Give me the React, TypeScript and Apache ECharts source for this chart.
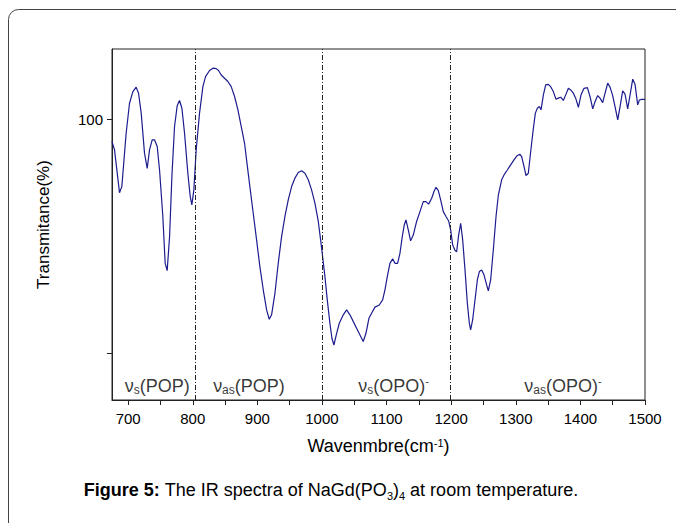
import React, { useEffect, useRef } from "react";
import * as echarts from "echarts";

const wavenumbers = [
  675, 678.9, 686.6, 690.2, 696.9, 702.1, 707.3, 712.4, 716.1, 720.2, 725.3, 729.5, 733.1, 737.2, 740.8,
  745.0, 748.6, 753.7, 757.3, 760.4, 764.1, 767.7, 771.8, 775.9, 779.5, 783.2, 787.3, 792.4, 796.1, 798.6,
  801.7, 805.3, 810.5, 815.7, 819.8, 826.0, 831.2, 836.3, 839.9, 844.1, 849.2, 854.4, 859.5, 864.7, 869.9,
  875.0, 880.2,
  883.3, 888.4, 893.6, 898.8, 903.9, 909.1, 914.3, 918.4, 922.0, 927.2, 932.3, 937.5, 942.6, 947.8, 953.0,
  958.1, 963.3, 968.5, 973.6, 978.8, 983.9, 989.1, 994.3, 997.9, 1001.0, 1004.6, 1008.2, 1012.3, 1015.4, 1018.5,
  1022.7, 1026.8, 1033.0, 1038.1, 1043.3, 1048.5, 1053.6, 1058.8, 1063.9, 1068.1, 1072.7, 1076.8, 1082.0, 1088.7,
  1093.9, 1097.5, 1101.1, 1105.2, 1109.4, 1113.0, 1117.1, 1120.7, 1124.3, 1127.4, 1130.0, 1133.6, 1137.2, 1141.4, 1146.5,
  1151.7, 1156.8, 1161.0, 1165.1, 1169.8, 1173.4, 1176.5, 1180.1, 1183.7, 1187.8, 1192.0, 1196.1, 1199.2, 1202.3, 1205.9,
  1208.5, 1211.6, 1214.7, 1217.8, 1221.4, 1225.0, 1228.1, 1230.1, 1233.2, 1236.9, 1240.5, 1243.6, 1247.2, 1250.8, 1254.9,
  1257.5, 1261.1, 1265.2, 1269.4, 1273.0,
  1278.1, 1281.8, 1286.9, 1292.1, 1297.2, 1302.4, 1306.5, 1309.1, 1312.7, 1315.8, 1319.4, 1323.1, 1327.2, 1330.3, 1333.4,
  1336.5, 1339.1, 1342.7, 1346.3, 1350.4, 1354.0, 1358.1, 1362.3, 1365.9, 1369.5, 1373.6, 1377.3, 1381.4, 1385.0, 1389.1,
  1392.7, 1396.9, 1401.0, 1405.6, 1410.8, 1414.9, 1419.1, 1422.7, 1426.8, 1430.4, 1434.5, 1438.2, 1442.3, 1445.9, 1450.0,
  1453.6, 1457.8, 1461.4, 1465.5, 1469.1, 1473.2, 1476.9, 1481.0, 1484.6, 1488.7, 1491.3, 1494.9, 1500.0,
];

const transmittance = [
  99.04, 98.69, 96.86, 97.12, 99.40, 100.68, 101.18, 101.37, 101.11, 100.26, 98.55, 97.90, 98.69, 99.12, 99.12,
  98.83, 97.83, 95.84, 93.84, 93.53, 94.98, 97.55, 99.69, 100.57, 100.80, 100.47, 99.40, 97.69, 96.69, 96.34,
  96.98, 98.69, 100.26, 101.39, 101.82, 102.08, 102.18, 102.16, 102.08, 101.89, 101.75, 101.61, 101.39, 100.97, 100.40,
  99.69, 98.97,
  98.26, 97.12, 95.98, 94.84, 93.70, 92.71, 91.85, 91.45, 91.64, 92.56, 93.84, 94.98, 95.84, 96.55, 97.12,
  97.48, 97.72, 97.80, 97.69, 97.41, 96.98, 96.41, 95.63, 94.84, 94.13, 93.27, 92.28, 91.28, 90.64, 90.35,
  90.85, 91.28, 91.64, 91.85, 91.64, 91.35, 91.07, 90.78, 90.50, 90.85, 91.49, 91.71, 91.97, 92.06,
  92.28, 92.71, 93.27, 93.84, 94.03, 93.84, 93.84, 94.27, 94.98, 95.48, 95.70, 95.27, 94.80, 95.06, 95.63,
  96.05, 96.48, 96.48, 96.37, 96.62, 96.91, 97.09, 96.95, 96.55, 96.05, 95.84, 95.65, 95.27, 94.63, 94.39,
  94.34, 95.06, 95.55, 94.84, 93.56, 92.14, 91.28, 91.00, 91.42, 92.28, 93.13, 93.49, 93.56, 93.35, 92.92,
  92.66, 93.13, 94.41, 95.84, 96.76,
  97.41, 97.62, 97.83, 98.05, 98.26, 98.45, 98.50, 98.40, 97.98, 97.59, 97.69, 98.62, 99.61, 100.26, 100.47,
  100.54, 100.40, 101.04, 101.47, 101.49, 101.39, 101.18, 100.85, 100.90, 100.94, 100.80, 101.04, 101.32, 101.25, 101.11,
  100.90, 100.51, 101.04, 101.32, 101.35, 100.97, 100.44, 100.75, 101.01, 100.90, 100.71, 101.11, 101.54, 101.37, 101.01,
  100.54, 99.97, 100.54, 101.21, 101.07, 100.44, 101.04, 101.71, 101.49, 100.61, 100.82, 100.85, 100.85,
];

const regionBoundaries = [804, 1000, 1198];
const regionLabelX = [745, 887, 1111, 1373];
const regionLabelY = 88.6;
const regionLabels = [
  "ν{sub|s}(POP)",
  "ν{sub|as}(POP)",
  "ν{sub|s}(OPO){sup|-}",
  "ν{sub|as}(OPO){sup|-}",
];
const xLabelValues = [700, 800, 900, 1000, 1100, 1200, 1300, 1400, 1500];
const xTickValues = [700, 750, 800, 850, 900, 950, 1000, 1050, 1100, 1150, 1200, 1250, 1300, 1350, 1400, 1450, 1500];
const yTickValues = [90, 100];
const yLabelValues = [100];

const FONT = "'Liberation Sans', Arial, Helvetica, sans-serif";
const INK = "#000";

export default function App() {
  const ref = useRef<HTMLDivElement>(null);

  useEffect(() => {
    const chart = echarts.init(ref.current!, null, { renderer: "svg" });
    const n = Math.min(wavenumbers.length, transmittance.length);
    const lineData: number[][] = [];
    for (let i = 0; i < n; i++) lineData.push([wavenumbers[i], transmittance[i]]);
    const labelData = regionLabelX.map((x) => [x, regionLabelY]);

    chart.setOption({
      animation: false,
      backgroundColor: "#ffffff",
      textStyle: { fontFamily: FONT },
      grid: {
        left: 112,
        top: 49,
        right: 31,
        bottom: 123,
        show: true,
        borderColor: "#222",
        borderWidth: 1,
        outerBoundsMode: "none",
      },
      xAxis: {
        type: "value",
        min: 675,
        max: 1500,
        name: "Wavenmbre(cm{sup|-1})",
        nameLocation: "middle",
        nameGap: 37,
        nameTextStyle: {
          fontSize: 18,
          color: INK,
          fontFamily: FONT,
          rich: {
            sup: { fontSize: 11, verticalAlign: "top", lineHeight: 8, color: INK, fontFamily: FONT },
          },
        },
        axisLine: { show: true, lineStyle: { color: "#222", width: 1 } },
        axisTick: { show: true, inside: false, length: 5, customValues: xTickValues, lineStyle: { color: "#222" } },
        axisLabel: {
          customValues: xLabelValues,
          formatter: (v: number) => String(v),
          fontSize: 15,
          color: INK,
          margin: 11,
          fontFamily: FONT,
        },
        splitLine: { show: false },
      },
      yAxis: {
        type: "value",
        min: 88,
        max: 103,
        name: "Transmitance(%)",
        nameLocation: "middle",
        nameGap: 60,
        nameTextStyle: { fontSize: 17, color: INK, fontFamily: FONT },
        axisLine: { show: true, lineStyle: { color: "#222", width: 1 } },
        axisTick: { show: true, inside: false, length: 5, customValues: yTickValues, lineStyle: { color: "#222" } },
        axisLabel: {
          customValues: yLabelValues,
          formatter: (v: number) => String(v),
          fontSize: 15,
          color: INK,
          margin: 9,
          fontFamily: FONT,
        },
        splitLine: { show: false },
      },
      series: [
        {
          type: "line",
          data: lineData,
          showSymbol: false,
          smooth: false,
          lineStyle: { color: "#1c1c8f", width: 1.2 },
          markLine: {
            silent: true,
            symbol: ["none", "none"],
            label: { show: false },
            lineStyle: { color: "#222", width: 1, type: [5, 2, 1, 2] },
            data: regionBoundaries.map((x) => ({ xAxis: x })),
          },
          z: 3,
        },
        {
          type: "scatter",
          data: labelData,
          symbolSize: 0,
          silent: true,
          label: {
            show: true,
            position: "inside",
            formatter: (p: any) => regionLabels[p.dataIndex],
            fontSize: 18,
            color: INK,
            fontFamily: FONT,
            lineHeight: 20,
            rich: {
              sub: { fontSize: 12, verticalAlign: "bottom", lineHeight: 2, color: INK, fontFamily: FONT },
              sup: { fontSize: 11, verticalAlign: "top", lineHeight: 8, color: INK, fontFamily: FONT },
            },
          },
          z: 4,
        },
      ],
      graphic: [
        {
          type: "rect",
          shape: { x: 8.5, y: 9.5, width: 760, height: 600, r: 10 },
          style: { fill: "rgba(0,0,0,0)", stroke: "#444", lineWidth: 1 },
          silent: true,
          z: -10,
        },
        {
          type: "text",
          x: 331,
          y: 490,
          style: {
            text: "{b|Figure 5:} The IR spectra of NaGd(PO{sub|3}){sub|4} at room temperature.",
            align: "center",
            verticalAlign: "middle",
            fontSize: 18,
            fontFamily: FONT,
            fill: INK,
            lineHeight: 22,
            rich: {
              b: { fontSize: 18, fontWeight: "bold", fontFamily: FONT, fill: INK, lineHeight: 22 },
              sub: { fontSize: 11, verticalAlign: "bottom", lineHeight: 2, fontFamily: FONT, fill: INK },
            },
          },
          silent: true,
        },
      ],
    });

    return () => chart.dispose();
  }, []);

  return (
    <div
      ref={ref}
      style={{ position: "absolute", left: 0, top: 0, width: 676, height: 523 }}
    />
  );
}
